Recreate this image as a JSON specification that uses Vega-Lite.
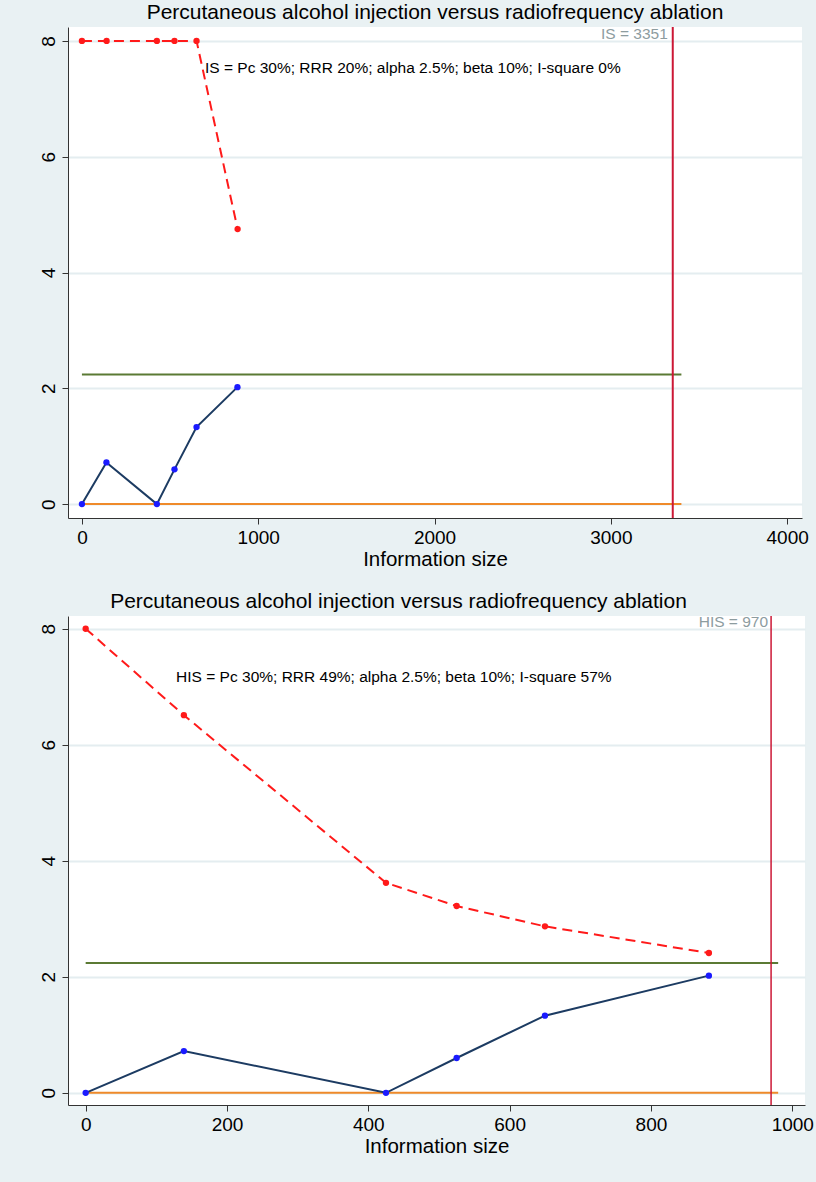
{
  "$schema": "https://vega.github.io/schema/vega-lite/v6.json",
  "background": "#e9f1f3",
  "padding": {"left": 38, "top": 2, "right": 6, "bottom": 30},
  "config": {
    "view": {"fill": "white", "stroke": null},
    "concat": {"spacing": 20},
    "font": "Liberation Sans",
    "title": {"font": "Liberation Sans", "fontSize": 21, "fontWeight": "normal", "color": "black", "offset": 3},
    "axis": {
      "domainColor": "#333333", "tickColor": "#333333", "labelColor": "black", "titleColor": "black",
      "labelFont": "Liberation Sans", "labelFontSize": 19, "titleFont": "Liberation Sans", "titleFontSize": 20.5,
      "titleFontWeight": "normal", "tickSize": 6, "grid": false, "format": "d"
    }
  },
  "datasets": {
    "top_upper": [
      {"x": 0, "z": 8}, {"x": 140, "z": 8}, {"x": 425, "z": 8}, {"x": 525, "z": 8}, {"x": 650, "z": 8}, {"x": 883, "z": 4.75}
    ],
    "cum": [
      {"x": 0, "z": 0}, {"x": 139, "z": 0.72}, {"x": 425, "z": 0}, {"x": 525, "z": 0.6}, {"x": 650, "z": 1.33}, {"x": 882, "z": 2.02}
    ],
    "bot_upper": [
      {"x": 0, "z": 8}, {"x": 139, "z": 6.51}, {"x": 425, "z": 3.62}, {"x": 525, "z": 3.22}, {"x": 650, "z": 2.87}, {"x": 882, "z": 2.41}
    ],
    "top_green": [{"x": 0, "z": 2.24}, {"x": 3400, "z": 2.24}],
    "top_orange": [{"x": 0, "z": 0}, {"x": 3400, "z": 0}],
    "bot_green": [{"x": 0, "z": 2.24}, {"x": 980, "z": 2.24}],
    "bot_orange": [{"x": 0, "z": 0}, {"x": 980, "z": 0}],
    "top_is": [{"x": 3351, "z": 8.12, "label": "IS = 3351"}],
    "bot_is": [{"x": 970, "z": 8.12, "label": "HIS = 970"}],
    "top_note": [{"x": 698, "z": 7.54, "label": "IS = Pc 30%; RRR 20%; alpha 2.5%; beta 10%; I-square 0%"}],
    "bot_note": [{"x": 128, "z": 7.17, "label": "HIS = Pc 30%; RRR 49%; alpha 2.5%; beta 10%; I-square 57%"}]
  },
  "vconcat": [
    {
      "title": {"text": "Percutaneous alcohol injection versus radiofrequency ablation"},
      "width": 734,
      "height": 491,
      "encoding": {
        "x": {"field": "x", "type": "quantitative",
              "scale": {"domain": [-79, 4084], "nice": false, "zero": false},
              "axis": {"values": [0, 1000, 2000, 3000, 4000], "title": "Information size", "labelPadding": 4, "titlePadding": 2, "labelFlush": false}},
        "y": {"field": "z", "type": "quantitative",
              "scale": {"domain": [-0.24, 8.24], "nice": false, "zero": false},
              "axis": {"values": [0, 2, 4, 6, 8], "title": null, "labelAngle": 270, "labelAlign": "center", "labelBaseline": "bottom", "labelPadding": 4,
                       "grid": true, "gridColor": "#e4edf0", "gridWidth": 2, "labelFlush": false}}
      },
      "layer": [
        {"data": {"name": "top_orange"}, "mark": {"type": "line", "color": "#ef8a2a", "strokeWidth": 2}},
        {"data": {"name": "top_green"}, "mark": {"type": "line", "color": "#5b7a34", "strokeWidth": 2}},
        {"data": {"name": "top_is"}, "mark": {"type": "rule", "color": "#cc1836", "strokeWidth": 2}, "encoding": {"y": null}},
        {"data": {"name": "top_is"}, "mark": {"type": "text", "align": "right", "baseline": "middle", "dx": -5, "fontSize": 15.5, "color": "#8d9c9f"}, "encoding": {"text": {"field": "label"}}},
        {"data": {"name": "top_note"}, "mark": {"type": "text", "align": "left", "baseline": "middle", "fontSize": 15.5, "color": "black"}, "encoding": {"text": {"field": "label"}}},
        {"data": {"name": "cum"}, "mark": {"type": "line", "color": "#1c3b62", "strokeWidth": 2}},
        {"data": {"name": "cum"}, "mark": {"type": "point", "filled": true, "color": "#1a1aff", "size": 40, "opacity": 1}},
        {"data": {"name": "top_upper"}, "mark": {"type": "line", "color": "#ff1a1a", "strokeWidth": 2, "strokeDash": [10, 6]}},
        {"data": {"name": "top_upper"}, "mark": {"type": "point", "filled": true, "color": "#ff1a1a", "size": 40, "opacity": 1}}
      ]
    },
    {
      "title": {"text": "Percutaneous alcohol injection versus radiofrequency ablation", "dx": -38},
      "width": 737,
      "height": 489,
      "encoding": {
        "x": {"field": "x", "type": "quantitative",
              "scale": {"domain": [-25, 1018], "nice": false, "zero": false},
              "axis": {"values": [0, 200, 400, 600, 800, 1000], "title": "Information size", "labelPadding": 4, "titlePadding": 2, "labelFlush": false}},
        "y": {"field": "z", "type": "quantitative",
              "scale": {"domain": [-0.21, 8.22], "nice": false, "zero": false},
              "axis": {"values": [0, 2, 4, 6, 8], "title": null, "labelAngle": 270, "labelAlign": "center", "labelBaseline": "bottom", "labelPadding": 4,
                       "grid": true, "gridColor": "#e4edf0", "gridWidth": 2, "labelFlush": false}}
      },
      "layer": [
        {"data": {"name": "bot_orange"}, "mark": {"type": "line", "color": "#ef8a2a", "strokeWidth": 2}},
        {"data": {"name": "bot_green"}, "mark": {"type": "line", "color": "#5b7a34", "strokeWidth": 2}},
        {"data": {"name": "bot_is"}, "mark": {"type": "rule", "color": "#cc1836", "strokeWidth": 1.5}, "encoding": {"y": null}},
        {"data": {"name": "bot_is"}, "mark": {"type": "text", "align": "right", "baseline": "middle", "dx": -3, "fontSize": 15.5, "color": "#8d9c9f"}, "encoding": {"text": {"field": "label"}}},
        {"data": {"name": "bot_note"}, "mark": {"type": "text", "align": "left", "baseline": "middle", "fontSize": 15.5, "color": "black"}, "encoding": {"text": {"field": "label"}}},
        {"data": {"name": "cum"}, "mark": {"type": "line", "color": "#1c3b62", "strokeWidth": 2}},
        {"data": {"name": "cum"}, "mark": {"type": "point", "filled": true, "color": "#1a1aff", "size": 40, "opacity": 1}},
        {"data": {"name": "bot_upper"}, "mark": {"type": "line", "color": "#ff1a1a", "strokeWidth": 2, "strokeDash": [10, 6]}},
        {"data": {"name": "bot_upper"}, "mark": {"type": "point", "filled": true, "color": "#ff1a1a", "size": 40, "opacity": 1}}
      ]
    }
  ]
}
